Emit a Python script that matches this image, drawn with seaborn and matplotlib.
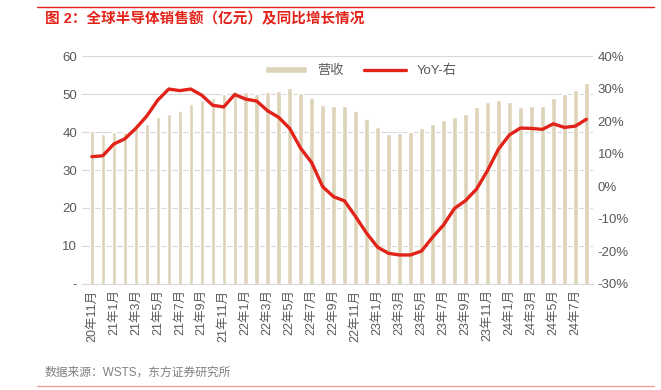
import numpy as np
import pandas as pd
import matplotlib
matplotlib.use("Agg")
import matplotlib.pyplot as plt
import seaborn as sns
from matplotlib.ticker import FuncFormatter, MultipleLocator

sns.set_style("white")
plt.rcParams['font.family'] = ['Liberation Sans', 'Noto Sans CJK SC', 'DejaVu Sans']

# monthly, 20年11月 .. 24年8月
months = ([(20, m) for m in (11, 12)] + [(21, m) for m in range(1, 13)]
          + [(22, m) for m in range(1, 13)] + [(23, m) for m in range(1, 13)]
          + [(24, m) for m in range(1, 9)])
labels = [f"{y}年{m}月" for y, m in months]

revenue = [40.3, 39.5, 39.9, 40.0, 41.0, 42.0, 43.9, 44.8, 45.6, 47.3,
           48.4, 49.0, 50.0, 50.7, 50.6, 50.0, 50.5, 50.9, 51.6, 50.2,
           48.9, 47.1, 47.0, 47.0, 45.6, 43.5, 41.3, 39.6, 39.8, 40.0,
           41.0, 42.1, 43.2, 43.9, 44.7, 46.6, 47.9, 48.5, 47.9, 46.7,
           46.8, 47.0, 48.9, 49.9, 51.2, 53.0]
yoy = [9.1, 9.4, 13.0, 14.6, 17.8, 21.6, 26.5, 29.9, 29.4, 29.9,
       28.0, 24.9, 24.4, 28.2, 26.8, 26.2, 23.2, 21.2, 17.8, 11.7,
       7.3, -0.1, -3.2, -4.5, -9.3, -14.4, -18.7, -20.6, -21.1, -21.1,
       -19.9, -15.7, -11.9, -6.8, -4.4, -0.9, 4.8, 11.4, 15.8, 17.9,
       17.8, 17.5, 19.2, 18.1, 18.5, 20.6]

df = pd.DataFrame({"month": labels, "revenue": revenue, "yoy": yoy,
                   "pos": np.arange(len(labels))})

bar_color = "#DDD3B8"
line_color = "#E2231A"
text_color = "#595959"

fig = plt.figure(figsize=(6.61, 3.90), dpi=100)
ax = fig.add_axes([0.124, 0.272, 0.773, 0.584])

sns.barplot(data=df, x="pos", y="revenue", color=bar_color, width=0.4,
            saturation=1, ax=ax, native_scale=True, label="营收")
ax.set_ylim(0, 60)
ax.yaxis.set_major_locator(MultipleLocator(10))
ax.yaxis.set_major_formatter(FuncFormatter(lambda v, p: "-" if v == 0 else f"{v:.0f}"))
ax.grid(axis="y", color="#D9D9D9", linewidth=0.8)
ax.set_axisbelow(True)
ax.set_xlim(-0.9, len(labels) - 0.4)
ax.set_xticks(df["pos"][::2])
ax.set_xticklabels(labels[::2], rotation=90)
ax.set_xlabel("")
ax.set_ylabel("")

ax2 = ax.twinx()
sns.lineplot(data=df, x="pos", y="yoy", color=line_color, linewidth=2.4,
             ax=ax2, label="YoY-右", legend=False)
ax2.set_ylim(-30, 40)
ax2.yaxis.set_major_locator(MultipleLocator(10))
ax2.yaxis.set_major_formatter(FuncFormatter(lambda v, p: f"{v:.0f}%"))
ax2.set_ylabel("")
ax2.set_xlabel("")

for a in (ax, ax2):
    for s in a.spines.values():
        s.set_visible(False)
    a.tick_params(length=0, labelsize=9.5, colors=text_color)
ax.spines["bottom"].set_visible(True)
ax.spines["bottom"].set_color("#D9D9D9")
ax.tick_params(axis="x", pad=4, labelsize=9)

h1, l1 = ax.get_legend_handles_labels()
h2, l2 = ax2.get_legend_handles_labels()
if ax.get_legend():
    ax.get_legend().remove()
leg = ax2.legend(h1 + h2, l1 + l2, loc="upper center", bbox_to_anchor=(0.545, 1.015),
                 ncol=2, frameon=False, fontsize=9.5, handlelength=3.2,
                 columnspacing=1.5, handleheight=0.5)
for t in leg.get_texts():
    t.set_color(text_color)

fig.text(0.068, 0.951, "图 2：全球半导体销售额（亿元）及同比增长情况", color="#E2231A",
         fontsize=10.5, fontweight="bold", va="center")
fig.add_artist(plt.Line2D([0.056, 0.99], [0.982, 0.982], color="#E2231A", linewidth=1))
fig.text(0.068, 0.044, "数据来源：WSTS，东方证券研究所", color="#7F7F7F",
         fontsize=8.5, va="center")
fig.add_artist(plt.Line2D([0.056, 0.99], [0.01, 0.01], color="#F0A0A0", linewidth=1))

fig.savefig("out.png", dpi=100)
